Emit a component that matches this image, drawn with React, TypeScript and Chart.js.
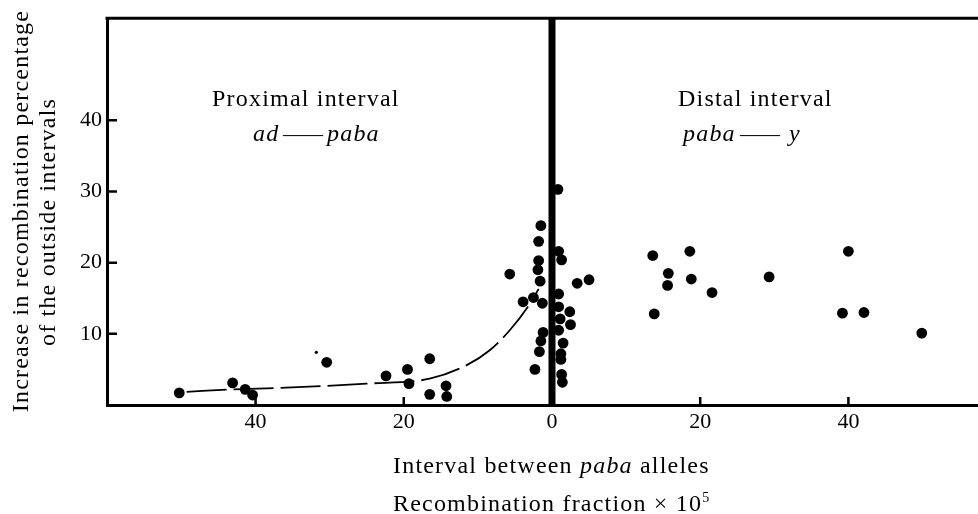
import { useEffect, useRef } from "react";
import { Chart, registerables } from "chart.js";

Chart.register(...registerables);

// ---- data ----
const xTickValues = [-40, -20, 0, 20, 40];
const yTickValues = [10, 20, 30, 40];
const xMin = -60.05;
const xMax = 57.49;
const yMin = 0;
const yMax = 54.35;

// proximal interval (ad — paba), plotted to the left of zero
const proximalX = [-50.3, -43.1, -41.4, -40.4, -30.4, -22.4, -19.5, -19.3, -16.5, -16.5, -14.3, -14.2, -5.7, -2.3, -1.5, -1.8, -1.8, -1.9, -1.6, -3.9, -2.5, -1.3, -1.2, -1.5, -1.7];
const proximalY = [1.7, 3.1, 2.2, 1.4, 6.0, 4.1, 5.0, 3.0, 6.5, 1.5, 2.7, 1.2, 18.4, 5.0, 25.2, 23.0, 20.3, 19.0, 17.4, 14.5, 15.1, 14.3, 10.2, 9.0, 7.5];

// distal interval (paba — y), plotted to the right of zero
const distalX = [0.8, 0.9, 1.3, 3.4, 5.0, 0.9, 0.9, 2.4, 1.1, 2.5, 0.9, 1.5, 1.2, 1.2, 1.3, 1.4, 13.6, 13.8, 15.7, 15.6, 18.6, 18.8, 21.6, 29.3, 40.0, 39.2, 42.1, 49.9];
const distalY = [30.3, 21.6, 20.4, 17.1, 17.6, 15.6, 13.8, 13.1, 12.1, 11.3, 10.5, 8.7, 7.2, 6.4, 4.3, 3.2, 21.0, 12.8, 18.5, 16.8, 21.6, 17.7, 15.8, 18.0, 21.6, 12.9, 13.0, 10.1];

// small speck in the figure
const speckX = [-31.8];
const speckY = [7.4];

// hand-drawn fitted curve (proximal side)
const curveX = [-49.3, -43.0, -36.7, -25.0, -16.5, -11.5, -8.4, -5.7, -3.0, -1.8];
const curveY = [1.85, 2.2, 2.4, 3.0, 3.7, 5.6, 7.7, 10.5, 14.2, 16.3];

// thick zero line
const zeroLineX = [0, 0];
const zeroLineY = [yMin, yMax];

const zip = (xs: number[], ys: number[]) => xs.map((x, i) => ({ x, y: ys[i] }));

const SERIF = "'Liberation Serif', 'Times New Roman', serif";

const decorPlugin = {
  id: "decor",
  afterDatasetsDraw(chart: any) {
    const { ctx, chartArea, scales } = chart;
    const xs = scales.x;
    const ys = scales.y;
    ctx.save();
    ctx.strokeStyle = "#000";
    ctx.lineCap = "butt";
    // top border of frame
    ctx.lineWidth = 3;
    ctx.beginPath();
    ctx.moveTo(chartArea.left - 1.5, chartArea.top);
    ctx.lineTo(chartArea.right, chartArea.top);
    ctx.stroke();
    // inward tick marks
    ctx.lineWidth = 2.5;
    ctx.beginPath();
    yTickValues.forEach((v) => {
      const py = ys.getPixelForValue(v);
      ctx.moveTo(chartArea.left, py);
      ctx.lineTo(chartArea.left + 10, py);
    });
    xTickValues
      .filter((v) => v !== 0)
      .forEach((v) => {
        const px = xs.getPixelForValue(v);
        ctx.moveTo(px, chartArea.bottom);
        ctx.lineTo(px, chartArea.bottom - 8);
      });
    ctx.stroke();
    ctx.restore();
  },
  afterDraw(chart: any) {
    const ctx = chart.ctx as CanvasRenderingContext2D;
    ctx.save();
    ctx.fillStyle = "#000";
    ctx.textBaseline = "alphabetic";
    ctx.textAlign = "left";
    const roman = `24px ${SERIF}`;
    const italic = `italic 24px ${SERIF}`;
    const spacing = "1.2px";
    (ctx as any).letterSpacing = spacing;

    const runs = (parts: [string, string][], x: number, y: number) => {
      let cx = x;
      parts.forEach(([font, text]) => {
        ctx.font = font;
        ctx.fillText(text, cx, y);
        cx += ctx.measureText(text).width;
      });
    };

    // region labels
    ctx.font = roman;
    ctx.fillText("Proximal interval", 212, 106);
    ctx.fillText("Distal interval", 678, 106);

    ctx.font = italic;
    ctx.fillText("ad", 253, 141);
    ctx.fillText("paba", 327, 141);
    ctx.fillText("paba", 683, 141);
    ctx.fillText("y", 789, 141);
    (ctx as any).letterSpacing = "0px";
    ctx.font = `20px ${SERIF}`;
    ctx.fillText("——", 283, 141);
    ctx.fillText("——", 740, 141);
    (ctx as any).letterSpacing = spacing;

    // x axis titles
    runs(
      [
        [roman, "Interval between "],
        [italic, "paba"],
        [roman, " alleles"],
      ],
      393,
      473
    );
    ctx.font = roman;
    const rec = "Recombination fraction × 10";
    ctx.fillText(rec, 393, 511);
    const w = ctx.measureText(rec).width;
    ctx.font = `14px ${SERIF}`;
    ctx.fillText("5", 393 + w, 502);

    // y axis titles (rotated)
    ctx.font = roman;
    ctx.textAlign = "center";
    ctx.save();
    ctx.translate(28, 211);
    ctx.rotate(-Math.PI / 2);
    ctx.fillText("Increase in recombination percentage", 0, 0);
    ctx.restore();
    ctx.save();
    ctx.translate(55, 222);
    ctx.rotate(-Math.PI / 2);
    ctx.fillText("of the outside intervals", 0, 0);
    ctx.restore();

    ctx.restore();
  },
};

export default function App() {
  const ref = useRef<HTMLCanvasElement | null>(null);

  useEffect(() => {
    if (!ref.current) return;
    const chart = new Chart(ref.current, {
      type: "scatter",
      data: {
        datasets: [
          {
            label: "zero",
            data: zip(zeroLineX, zeroLineY),
            showLine: true,
            borderColor: "#000",
            borderWidth: 7,
            pointRadius: 0,
          },
          {
            label: "curve",
            data: zip(curveX, curveY),
            showLine: true,
            borderColor: "#000",
            borderWidth: 1.8,
            borderDash: [40, 7],
            cubicInterpolationMode: "monotone",
            pointRadius: 0,
          },
          {
            label: "proximal",
            data: zip(proximalX, proximalY),
            backgroundColor: "#000",
            borderWidth: 0,
            pointRadius: 5.4,
          },
          {
            label: "distal",
            data: zip(distalX, distalY),
            backgroundColor: "#000",
            borderWidth: 0,
            pointRadius: 5.4,
          },
          {
            label: "speck",
            data: zip(speckX, speckY),
            backgroundColor: "#000",
            borderWidth: 0,
            pointRadius: 1.6,
          },
        ] as any,
      },
      options: {
        animation: false,
        responsive: false,
        events: [],
        layout: { autoPadding: false, padding: { top: 15, left: 0, right: 0, bottom: 0 } },
        plugins: {
          legend: { display: false },
          tooltip: { enabled: false },
        },
        scales: {
          x: {
            type: "linear",
            min: xMin,
            max: xMax,
            afterBuildTicks: (s: any) => {
              s.ticks = xTickValues.map((value) => ({ value }));
            },
            afterFit: (s: any) => {
              s.height = 109;
            },
            ticks: {
              callback: (v: any) => String(Math.abs(Number(v))),
              font: { family: SERIF, size: 22 },
              color: "#000",
              padding: 4,
              maxRotation: 0,
              autoSkip: false,
            },
            grid: { display: true, drawOnChartArea: false, drawTicks: false },
            border: { display: true, width: 3, color: "#000" },
          },
          y: {
            type: "linear",
            min: yMin,
            max: yMax,
            afterBuildTicks: (s: any) => {
              s.ticks = yTickValues.map((value) => ({ value }));
            },
            afterFit: (s: any) => {
              s.width = 107;
            },
            ticks: {
              font: { family: SERIF, size: 22 },
              color: "#000",
              padding: 5,
              autoSkip: false,
            },
            grid: { display: true, drawOnChartArea: false, drawTicks: false },
            border: { display: true, width: 3, color: "#000" },
          },
        },
      },
      plugins: [decorPlugin],
    });
    return () => chart.destroy();
  }, []);

  return (
    <div style={{ position: "fixed", left: 0, top: 0, width: 978, height: 514, background: "#fff" }}>
      <canvas ref={ref} width={978} height={514} style={{ display: "block" }} />
    </div>
  );
}
